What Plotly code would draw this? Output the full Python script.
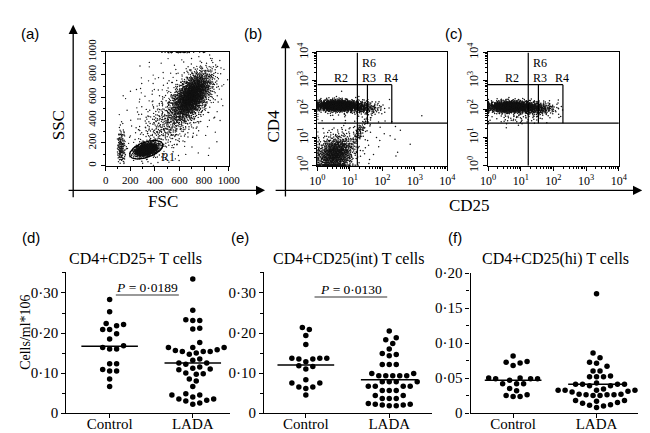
import numpy as np
import plotly.graph_objects as go

W, H = 650, 433
SERIF = "Liberation Serif, Times New Roman, serif"
SANS = "Liberation Sans, Arial, sans-serif"

# ---------------- data: dot plots (cells/ml*10^6) ----------------
groups = ["Control", "LADA"]

d_control = [0.284, 0.253, 0.218, 0.224, 0.221, 0.209, 0.198, 0.209, 0.185, 0.164,
             0.160, 0.160, 0.168, 0.123, 0.123, 0.109, 0.105, 0.105, 0.085, 0.066]
d_lada = [0.335, 0.257, 0.231, 0.231, 0.233, 0.210, 0.212, 0.176, 0.164, 0.164, 0.164,
          0.158, 0.154, 0.154, 0.150, 0.154, 0.156, 0.147, 0.135, 0.132, 0.125, 0.125,
          0.122, 0.115, 0.112, 0.110, 0.108, 0.100, 0.098, 0.097, 0.085, 0.080, 0.066,
          0.048, 0.045, 0.045, 0.040, 0.035, 0.032, 0.030, 0.035, 0.025, 0.022]
d_median = [0.167, 0.125]

e_control = [0.214, 0.209, 0.194, 0.171, 0.137, 0.135, 0.137, 0.137, 0.135, 0.128,
             0.118, 0.116, 0.110, 0.083, 0.075, 0.065, 0.061, 0.065, 0.075, 0.045]
e_lada = [0.205, 0.188, 0.183, 0.174, 0.160, 0.149, 0.143, 0.146, 0.121, 0.121, 0.121,
          0.099, 0.099, 0.093, 0.093, 0.093, 0.093, 0.093, 0.078, 0.078, 0.078, 0.078,
          0.067, 0.067, 0.067, 0.067, 0.056, 0.056, 0.056, 0.044, 0.044, 0.036, 0.036,
          0.036, 0.024, 0.022, 0.020, 0.018, 0.018, 0.020, 0.022]
e_median = [0.120, 0.083]

f_control = [0.0816, 0.0726, 0.068, 0.0717, 0.0735, 0.049, 0.049, 0.050, 0.050, 0.047,
             0.049, 0.042, 0.042, 0.042, 0.035, 0.032, 0.025, 0.0236, 0.0236, 0.026]
f_lada = [0.1705, 0.086, 0.079, 0.071, 0.0725, 0.0667, 0.060, 0.060, 0.052, 0.052, 0.052,
          0.053, 0.039, 0.041, 0.041, 0.041, 0.041, 0.043, 0.039, 0.0327, 0.0327, 0.0327,
          0.0327, 0.0345, 0.031, 0.030, 0.026, 0.025, 0.027, 0.026, 0.025, 0.026, 0.027,
          0.018, 0.015, 0.012, 0.018, 0.011, 0.014, 0.017, 0.010, 0.008]
f_median = [0.047, 0.041]

dot_titles = ["CD4+CD25+ T cells", "CD4+CD25(int) T cells", "CD4+CD25(hi) T cells"]
p_texts = ["<i>P</i> = 0·0189", "<i>P</i> = 0·0130"]
de_ticks = [0, 0.10, 0.20, 0.30]
de_ticktext = ["0", "0·10", "0·20", "0·30"]
f_ticks = [0, 0.05, 0.10, 0.15, 0.20]
f_ticktext = ["0", "0·05", "0·10", "0·15", "0·20"]

# ---------------- data: flow cytometry (cluster descriptions) ----
# (n events, centre x, centre y, sd x, sd y, correlation)
scatter_clusters = [
    (1900, 700, 615, 80, 105, 0.55),   # granulocytes / monocytes
    (1500, 330, 140, 42, 26, 0.35),    # lymphocytes (R1)
    (450, 520, 380, 130, 150, 0.60),   # bridge
    (160, 125, 160, 18, 80, 0.0),      # debris
    (300, 560, 500, 230, 260, 0.30),   # sparse events
    (30, 600, 996, 80, 2, 0.0),        # saturated SSC
]
b_clusters = [  # log10 units
    (1300, 0.60, 2.12, 0.32, 0.10, 0.0),
    (300, 1.35, 2.05, 0.30, 0.12, -0.1),
    (1000, 0.55, 0.40, 0.30, 0.33, 0.2),
    (80, 1.30, 1.20, 0.15, 0.25, 0.8),
    (80, 1.20, 1.20, 0.80, 0.60, 0.0),
]
c_clusters = [
    (1400, 0.70, 2.08, 0.35, 0.10, 0.0),
    (300, 1.50, 2.02, 0.30, 0.12, 0.0),
    (70, 0.90, 1.70, 0.50, 0.15, 0.0),
]
gate_x = [1.23, 1.54, 2.29]     # log10 CD25 gate boundaries
gate_y = [1.50, 2.86]           # log10 CD4 gate boundaries
r1_gate = (330, 140, 18, 8, 20)  # centre FSC, SSC, semi axes (px), angle (deg)
fsc_ticks = [0, 200, 400, 600, 800, 1000]
log_ticks = [0, 1, 2, 3, 4]
log_ticktext = ["10<sup>%d</sup>" % k for k in log_ticks]


# ---------------- helpers ----------------
def px(x):
    return x / W


def py(y):
    return 1 - y / H


def halton(n, base, skip):
    out = np.empty(n)
    for i in range(n):
        k = i + skip + 1
        f, r = 1.0, 0.0
        while k > 0:
            f /= base
            r += f * (k % base)
            k //= base
        out[i] = r
    return out


def cloud(params, skip):
    n, cx, cy, sx, sy, rho = params
    u1 = halton(n, 2, skip)
    u2 = halton(n, 3, skip)
    r = np.sqrt(-2 * np.log(u1))
    th = 2 * np.pi * u2
    z1, z2 = r * np.cos(th), r * np.sin(th)
    return cx + sx * z1, cy + sy * (rho * z1 + np.sqrt(1 - rho ** 2) * z2)


def swarm(vals, ppu, ppc, step=3.6, mind=6.6):
    vals = np.asarray(vals, float)
    ys = vals * ppu
    xs = np.zeros(len(vals))
    placed = []
    for i in np.argsort(vals):
        c = 0.0
        for j in range(60):
            c = 0.0 if j == 0 else ((j + 1) // 2) * step * (1 if j % 2 else -1)
            if all((c - a) ** 2 + (ys[i] - b) ** 2 >= mind ** 2 for a, b in placed):
                break
        xs[i] = c
        placed.append((c, ys[i]))
    return xs / ppc


fig = go.Figure()
shapes, annots = [], []

# ---------------- (a) FSC / SSC ----------------
xs_all, ys_all = [], []
for k, p in enumerate(scatter_clusters):
    x, y = cloud(p, 37 + 3001 * k)
    m = (x >= 95) & (x <= 1000) & (y >= 0) & (y <= 1000)
    xs_all.append(x[m]); ys_all.append(y[m])
fig.add_trace(go.Scatter(x=np.concatenate(xs_all), y=np.concatenate(ys_all), mode="markers",
                         marker=dict(size=1.4, color="#111"), xaxis="x", yaxis="y",
                         hoverinfo="skip"))
cx, cy, a_px, b_px, ang = r1_gate
t = np.linspace(0, 2 * np.pi, 80)
th = np.deg2rad(ang)
sxp, syp = 127 / 1000, 119 / 1000
ex = cx + (a_px * np.cos(t) * np.cos(th) - b_px * np.sin(t) * np.sin(th)) / sxp
ey = cy + (a_px * np.cos(t) * np.sin(th) + b_px * np.sin(t) * np.cos(th)) / syp
fig.add_trace(go.Scatter(x=ex, y=ey, mode="lines", line=dict(color="black", width=1.3),
                         xaxis="x", yaxis="y", hoverinfo="skip"))

# ---------------- (b), (c) CD25 / CD4 ----------------
for ax, clusters, base in (("2", b_clusters, 11), ("3", c_clusters, 20011)):
    xs_all, ys_all = [], []
    for k, p in enumerate(clusters):
        x, y = cloud(p, base + 2503 * k)
        xs_all.append(np.clip(x, 0.01, 3.99)); ys_all.append(np.clip(y, 0.01, 3.99))
    fig.add_trace(go.Scatter(x=np.concatenate(xs_all), y=np.concatenate(ys_all), mode="markers",
                             marker=dict(size=1.5, color="#111"), xaxis="x" + ax,
                             yaxis="y" + ax, hoverinfo="skip"))
    xr, yr = "x" + ax, "y" + ax
    segs = [(gate_x[0], 0, gate_x[0], 4), (0, gate_y[0], 4, gate_y[0]),
            (0, gate_y[1], gate_x[2], gate_y[1]), (gate_x[1], gate_y[0], gate_x[1], gate_y[1]),
            (gate_x[2], gate_y[0], gate_x[2], gate_y[1])]
    for x0, y0, x1, y1 in segs:
        shapes.append(dict(type="line", xref=xr, yref=yr, x0=x0, y0=y0, x1=x1, y1=y1,
                           line=dict(color="black", width=1.2)))
    for txt, xx, yy, anc in (("R6", gate_x[0] + 0.07, 3.62, "left"),
                             ("R2", 0.72, 3.1, "center"),
                             ("R3", gate_x[0] + 0.07, 3.1, "left"),
                             ("R4", 2.0, 3.1, "left")):
        annots.append(dict(text=txt, x=xx, y=yy, xref=xr, yref=yr, showarrow=False,
                           xanchor=anc, yanchor="middle",
                           font=dict(family=SERIF, size=12, color="black")))

# ---------------- (d), (e), (f) dot plots ----------------
panels = [
    ("4", d_control, d_lada, d_median, 420.0),
    ("5", e_control, e_lada, e_median, 420.0),
    ("6", f_control, f_lada, f_median, 735.0),
]
for ax, ctrl, lada, med, ppu in panels:
    for gi, vals in enumerate((ctrl, lada)):
        off = swarm(vals, ppu, 86.0)
        fig.add_trace(go.Scatter(x=gi + off, y=vals, mode="markers",
                                 marker=dict(size=5.5, color="black"),
                                 xaxis="x" + ax, yaxis="y" + ax, hoverinfo="skip"))
        fig.add_trace(go.Scatter(x=[gi - 0.34, gi + 0.34], y=[med[gi], med[gi]], mode="lines",
                                 line=dict(color="black", width=1.5),
                                 xaxis="x" + ax, yaxis="y" + ax, hoverinfo="skip"))

# ---------------- axes ----------------
box = dict(showline=True, mirror=True, linecolor="black", linewidth=1.2, ticks="outside",
           ticklen=4, tickwidth=1, tickcolor="black", showgrid=False, zeroline=False,
           tickfont=dict(family=SERIF, size=11, color="black"))
lay = dict(
    xaxis=dict(box, domain=[px(92.5), px(219.5)], range=[0, 1000], anchor="y",
               tickvals=fsc_ticks, minor=dict(dtick=100, ticks="outside", ticklen=2),
               ticklabelstandoff=0),
    yaxis=dict(box, domain=[py(152), py(32.5)], range=[0, 1000], anchor="x",
               tickvals=fsc_ticks, tickangle=-90, minor=dict(dtick=100, ticks="outside", ticklen=2),
               ticklabelstandoff=0),
)
logminor = [d + np.log10(m) for d in range(4) for m in range(2, 10)]
for ax, x0, x1 in (("2", 311, 445), ("3", 487, 622)):
    lay["xaxis" + ax] = dict(box, domain=[px(x0), px(x1)], range=[0, 4], anchor="y" + ax,
                             tickvals=log_ticks, ticktext=log_ticktext,
                             tickfont=dict(family=SERIF, size=12, color="black"),
                             minor=dict(tickvals=logminor, ticks="outside", ticklen=2),
                             ticklabelstandoff=0)
    lay["yaxis" + ax] = dict(box, domain=[py(152), py(33)], range=[0, 4], anchor="x" + ax,
                             tickvals=log_ticks, ticktext=log_ticktext, tickangle=-90,
                             tickfont=dict(family=SERIF, size=12, color="black"),
                             minor=dict(tickvals=logminor, ticks="outside", ticklen=2),
                             ticklabelstandoff=0)

dots = dict(showline=True, mirror=False, linecolor="black", linewidth=1.3, ticks="outside",
            ticklen=4, tickwidth=1.2, tickcolor="black", showgrid=False, zeroline=False,
            tickfont=dict(family=SERIF, size=15, color="black"))
for ax, x0, x1, xr, top, ymax, tv, tt, mn in (
        ("4", 52, 221, [-0.52, 1.45], 264, 0.352, de_ticks, de_ticktext, 0.05),
        ("5", 256, 429, [-0.50, 1.51], 264, 0.352, de_ticks, de_ticktext, 0.05),
        ("6", 469, 642, [-0.51, 1.50], 265, 0.200, f_ticks, f_ticktext, 0.025)):
    lay["xaxis" + ax] = dict(dots, domain=[px(x0), px(x1)], range=xr, anchor="y" + ax,
                             tickvals=[0, 1], ticktext=groups, ticklabelstandoff=-7)
    lay["yaxis" + ax] = dict(dots, domain=[py(412), py(top)], range=[0, ymax], anchor="x" + ax,
                             tickvals=tv, ticktext=tt, ticklabelstandoff=0,
                             minor=dict(dtick=mn, tick0=0, ticks="outside", ticklen=3,
                                        tickcolor="black"))


def lab(text, x, y, size, family=SERIF, angle=0):
    annots.append(dict(text=text, x=px(x), y=py(y), xref="paper", yref="paper", showarrow=False,
                       xanchor="center", yanchor="middle", textangle=angle,
                       font=dict(family=family, size=size, color="black")))


lab("(a)", 14, 13, 15, SANS)
lab("(b)", 245, 13, 15, SANS)
lab("(c)", 452, 13, 15, SANS)
lab("SSC", 44, 110, 17, angle=-90)
lab("FSC", 152, 190, 17)
lab("CD4", 266, 110, 17, angle=-90)
lab("CD25", 468, 194, 17)
lab("R1", 157, 143, 12)
lab("(d)", 15, 228, 15, SANS)
lab("(e)", 231, 228, 15, SANS)
lab("(f)", 453, 228, 15, SANS)
lab(dot_titles[0], 123.5, 250, 16)
lab(dot_titles[1], 343.5, 250, 16)
lab(dot_titles[2], 557, 250, 16)
lab("Cells/ml*106", 9, 327, 14, angle=-90)
lab(p_texts[0], 135, 280, 13.5)
lab(p_texts[1], 346, 282, 13.5)
for x0, x1, y in ((103, 168, 288), (308, 383, 290)):
    shapes.append(dict(type="line", xref="paper", yref="paper", x0=px(x0), x1=px(x1),
                       y0=py(y), y1=py(y), line=dict(color="#777", width=1.5)))

# big arrows
for hx, hy, tx, ty in ((59, 4, 59, 178), (257, 178, 59, 178),
                       (278, 19, 278, 178), (646, 178, 278, 178)):
    annots.append(dict(x=px(hx), y=py(hy), xref="paper", yref="paper", text="",
                       showarrow=True, ax=tx - hx, ay=ty - hy, axref="pixel", ayref="pixel",
                       arrowhead=2, arrowsize=1.4, arrowwidth=1.3, arrowcolor="black",
                       standoff=0, startstandoff=0))

fig.update_layout(**lay)
fig.update_layout(width=W, height=H, margin=dict(l=0, r=0, t=0, b=0), showlegend=False,
                  paper_bgcolor="white", plot_bgcolor="white", shapes=shapes, annotations=annots)
fig.write_html("out.html")
